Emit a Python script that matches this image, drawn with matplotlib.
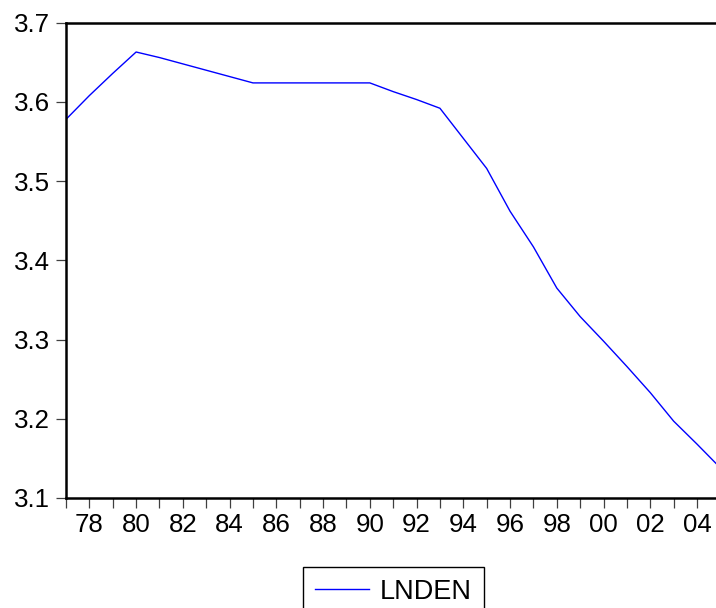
import matplotlib
matplotlib.use("Agg")
import matplotlib.pyplot as plt
from matplotlib.ticker import FixedLocator, FuncFormatter

plt.rcParams['font.family'] = ['Liberation Sans', 'DejaVu Sans']

years = list(range(1977, 2006))
lnden = [3.578, 3.608, 3.636, 3.663, 3.656, 3.648, 3.640, 3.632, 3.624,
         3.624, 3.624, 3.624, 3.624, 3.624, 3.613, 3.603, 3.592, 3.554,
         3.516, 3.462, 3.417, 3.365, 3.329, 3.298, 3.266, 3.233, 3.197,
         3.168, 3.138]
y_ticks = [3.1, 3.2, 3.3, 3.4, 3.5, 3.6, 3.7]
series_name = "LNDEN"

fig = plt.figure(figsize=(7.16, 6.08), dpi=100)
ax = fig.add_axes([66/716, 1-498/608, (720.4-66)/716, (498-22.7)/608])

ax.plot(years, lnden, color='#0000ff', linewidth=1.0, label=series_name)

ax.set_xlim(1977, 2005)
ax.set_ylim(3.1, 3.7)

ax.xaxis.set_major_locator(FixedLocator(list(range(1978, 2005, 2))))
ax.xaxis.set_minor_locator(FixedLocator(list(range(1977, 2006, 2))))
ax.xaxis.set_major_formatter(FuncFormatter(lambda v, p: f"{int(round(v)) % 100:02d}"))
ax.set_yticks(y_ticks)
ax.yaxis.set_major_formatter(FuncFormatter(lambda v, p: f"{v:.1f}"))

for s in ax.spines.values():
    s.set_linewidth(1.8)
    s.set_color('black')

ax.tick_params(axis='x', which='both', direction='out', length=7.5, width=0.9,
               color='#404040', labelsize=18.6, pad=3, labelcolor='black')
ax.tick_params(axis='y', which='major', direction='out', length=7.5, width=0.9,
               color='#404040', labelsize=18.6, pad=4, labelcolor='black')

leg = fig.legend(loc='upper center', bbox_to_anchor=(393.4/716, 1-566.7/608),
                 frameon=True, fancybox=False, shadow=False, framealpha=1,
                 edgecolor='black', fontsize=19.5, handlelength=2.0,
                 handletextpad=0.4, borderpad=0.45, borderaxespad=0)
leg.get_frame().set_linewidth(1.0)

fig.savefig("out.png", dpi=100)
